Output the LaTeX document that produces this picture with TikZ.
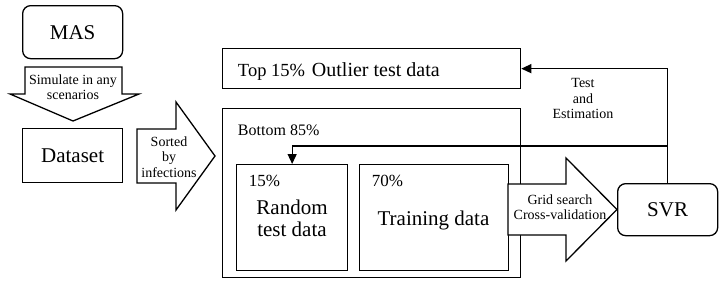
\documentclass[tikz,border=0pt]{standalone}
\usepackage{fontspec}
\setmainfont{Liberation Serif}
\newfontfamily\timesfont{Liberation Serif}
\usetikzlibrary{arrows.meta, positioning, calc}

\begin{document}
\begin{tikzpicture}[x=1pt, y=-1pt, line width=1.3pt,
    box/.style={draw=black, line width=1.3pt, inner sep=0pt, anchor=north west},
    blockarrow/.style={draw=black, fill=white, line width=1.3pt, line join=miter},
    big/.style={font=\timesfont\fontsize{21}{22}\selectfont},
    mid/.style={font=\timesfont\fontsize{17}{18}\selectfont},
    small/.style={font=\timesfont\fontsize{14}{15.5}\selectfont, align=center}]
  \useasboundingbox (0,0) rectangle (726,284);

  % left column
  \node[box, rounded corners=8pt, minimum width=100pt, minimum height=53pt, big] (mas) at (22,5) {MAS};
  \draw[blockarrow] (25,67) -- (122,67) -- (122,94) -- (139,94) -- (73,121) -- (10,94) -- (25,94) -- cycle;
  \node[small] (simtxt) at (73,87) {Simulate in any\\scenarios};
  \node[box, minimum width=100pt, minimum height=54pt, big] (dataset) at (22,128) {Dataset};
  \draw[blockarrow] (137,129) -- (176,129) -- (176,102) -- (215,156) -- (176,210) -- (176,183) -- (137,183) -- cycle;
  \node[small] (sorttxt) at (169,157) {Sorted\\by\\infections};

  % split of the data
  \node[box, minimum width=298pt, minimum height=40pt] (outlier) at (222,48) {};
  \node[anchor=base west, font=\timesfont\fontsize{18.5}{20}\selectfont] (toptxt) at (234,76) {Top 15\%};
  \node[anchor=base west, font=\timesfont\fontsize{20}{22}\selectfont] (outliertxt) at (308,76) {Outlier test data};
  \node[box, minimum width=298pt, minimum height=169pt] (bottom) at (222,108) {};
  \node[anchor=base west, font=\timesfont\fontsize{16}{18}\selectfont] (bottomtxt) at (234,135) {Bottom 85\%};
  \node[box, minimum width=111pt, minimum height=106pt] (random) at (236,164) {};
  \node[anchor=base west, mid] (randpct) at (245,186) {15\%};
  \node[big, align=center] (randtxt) at (292,218.5) {Random\\test data};
  \node[box, minimum width=149pt, minimum height=106pt] (training) at (359,164) {};
  \node[anchor=base west, mid] (trainpct) at (368,186) {70\%};
  \node[big, anchor=base] (traintxt) at (433.5,225) {Training data};

  % model
  \draw[blockarrow] (508,184) -- (566,184) -- (566,158) -- (617,209.5) -- (566,261) -- (566,235) -- (508,235) -- cycle;
  \node[small] (gridtxt) at (560,207) {Grid search\\Cross-validation};
  \node[box, rounded corners=8pt, minimum width=100pt, minimum height=52pt, big] (svr) at (617,183) {SVR};

  \draw[-{Triangle[length=10pt,width=9pt]}] (svr.north) |- (outlier.east);
  \draw[-{Triangle[length=10pt,width=9pt]}] (svr.north) |- ([yshift=18pt]random.north) -- (random.north);
  \node[small] (testtxt) at (583,98.5) {Test\\and\\Estimation};
\end{tikzpicture}
\end{document}
